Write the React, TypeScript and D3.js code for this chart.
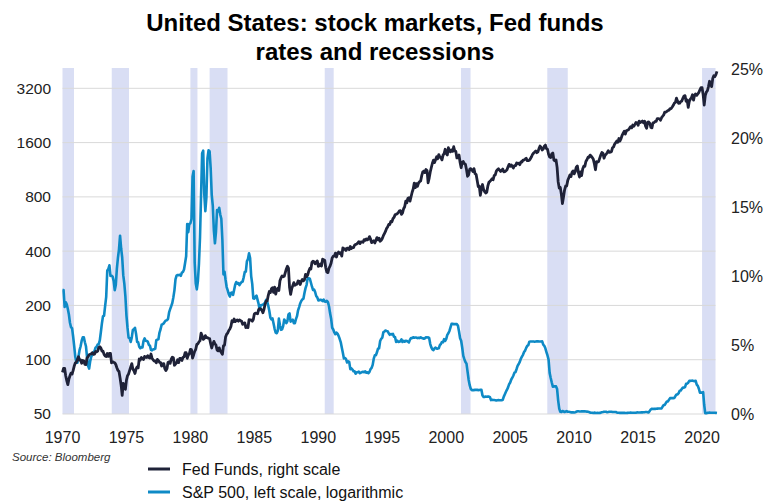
import React from "react";
import * as d3 from "d3";

const START_YEAR = 1970;

// S&P 500, monthly closes from Jan 1970
const spx: number[] = [
  85.0, 89.5, 89.6, 81.5, 76.6, 72.7, 78.0, 81.5, 84.3, 83.3, 87.2, 92.2,
  95.9, 96.8, 100.3, 103.9, 99.6, 99.7, 95.6, 99.0, 98.3, 94.2, 94.0, 102.1,
  103.9, 106.6, 107.2, 107.7, 109.5, 107.1, 107.4, 111.1, 110.6, 111.6, 116.7, 118.1,
  116.0, 111.7, 111.5, 107.0, 105.0, 104.3, 108.2, 104.3, 108.4, 108.3, 96.0, 97.6,
  96.6, 96.2, 94.0, 90.3, 87.3, 86.0, 79.3, 72.2, 63.5, 73.9, 70.0, 68.6,
  77.0, 81.6, 83.4, 87.3, 91.2, 95.2, 88.8, 86.9, 83.9, 89.0, 91.2, 90.2,
  100.9, 99.7, 102.8, 101.6, 100.2, 104.3, 103.4, 102.9, 105.2, 102.9, 102.1, 107.5,
  102.0, 99.8, 98.4, 98.4, 96.1, 100.5, 98.9, 96.8, 96.5, 92.3, 94.8, 95.1,
  89.3, 87.0, 89.2, 96.8, 97.2, 95.5, 100.7, 103.3, 102.5, 93.2, 94.7, 96.1,
  99.9, 96.3, 101.6, 101.8, 99.1, 102.9, 103.8, 109.3, 109.3, 101.8, 106.2, 107.9,
  114.2, 113.7, 102.1, 106.3, 111.2, 114.2, 121.7, 122.4, 125.5, 127.5, 140.5, 135.8,
  129.6, 131.3, 136.0, 132.8, 132.6, 131.2, 130.9, 122.8, 116.2, 121.9, 126.4, 122.6,
  120.4, 113.1, 112.0, 116.4, 111.9, 109.6, 107.1, 119.5, 120.4, 133.7, 138.5, 140.6,
  145.3, 148.1, 153.0, 164.4, 162.4, 168.1, 162.6, 164.4, 166.1, 163.6, 166.4, 164.9,
  163.4, 157.1, 159.2, 160.1, 150.6, 153.2, 150.7, 166.7, 166.1, 166.1, 163.6, 167.2,
  179.6, 181.2, 180.7, 179.8, 189.6, 191.9, 190.9, 188.6, 182.1, 189.8, 202.2, 211.3,
  211.8, 226.9, 238.9, 235.5, 247.4, 250.8, 236.1, 252.9, 231.3, 244.0, 249.2, 242.2,
  274.1, 284.2, 291.7, 288.4, 290.1, 304.0, 318.7, 329.8, 321.8, 251.8, 230.3, 247.1,
  257.1, 267.8, 258.9, 261.3, 262.2, 273.5, 272.0, 261.5, 271.9, 279.0, 273.7, 277.7,
  297.5, 288.9, 294.9, 309.6, 320.5, 318.0, 346.1, 351.5, 349.2, 340.4, 346.0, 353.4,
  329.1, 331.9, 339.9, 330.8, 361.2, 358.0, 356.2, 322.6, 306.1, 304.0, 322.2, 330.2,
  343.9, 367.1, 375.2, 375.4, 389.8, 371.2, 387.8, 395.4, 387.9, 392.5, 375.2, 417.1,
  408.8, 412.7, 403.7, 415.0, 415.4, 408.1, 424.2, 414.0, 417.8, 418.7, 431.4, 435.7,
  438.8, 443.4, 451.7, 440.2, 450.2, 450.5, 448.1, 463.6, 458.9, 467.8, 461.8, 466.5,
  481.6, 467.1, 445.8, 450.9, 456.5, 444.3, 458.3, 475.5, 462.7, 472.4, 453.7, 459.3,
  470.4, 487.4, 500.7, 514.7, 533.4, 544.8, 562.1, 561.9, 584.4, 581.5, 605.4, 615.9,
  636.0, 640.4, 645.5, 654.2, 669.1, 670.6, 640.0, 652.0, 687.3, 705.3, 757.0, 740.7,
  786.2, 790.8, 757.1, 801.3, 848.3, 885.1, 954.3, 899.5, 947.3, 914.6, 955.4, 970.4,
  980.3, 1049.3, 1101.8, 1111.8, 1090.8, 1133.8, 1120.7, 957.3, 1017.0, 1098.7, 1163.6, 1229.2,
  1279.6, 1238.3, 1286.4, 1335.2, 1301.8, 1372.7, 1328.7, 1320.4, 1282.7, 1362.9, 1388.9, 1469.3,
  1394.5, 1366.4, 1498.6, 1452.4, 1420.6, 1454.6, 1430.8, 1517.7, 1436.5, 1429.4, 1315.0, 1320.3,
  1366.0, 1239.9, 1160.3, 1249.5, 1255.8, 1224.4, 1211.2, 1133.6, 1040.9, 1059.8, 1139.5, 1148.1,
  1130.2, 1106.7, 1147.4, 1076.9, 1067.1, 989.8, 911.6, 916.1, 815.3, 885.8, 936.3, 879.8,
  855.7, 841.2, 848.2, 916.9, 963.6, 974.5, 990.3, 1008.0, 996.0, 1050.7, 1058.2, 1111.9,
  1131.1, 1144.9, 1126.2, 1107.3, 1120.7, 1140.8, 1101.7, 1104.2, 1114.6, 1130.2, 1173.8, 1211.9,
  1181.3, 1203.6, 1180.6, 1156.9, 1191.5, 1191.3, 1234.2, 1220.3, 1228.8, 1207.0, 1249.5, 1248.3,
  1280.1, 1280.7, 1294.9, 1310.6, 1270.1, 1270.2, 1276.7, 1303.8, 1335.9, 1377.9, 1400.6, 1418.3,
  1438.2, 1406.8, 1420.9, 1482.4, 1530.6, 1503.4, 1455.3, 1474.0, 1526.8, 1549.4, 1481.1, 1468.4,
  1378.6, 1330.6, 1322.7, 1385.6, 1400.4, 1280.0, 1267.4, 1282.8, 1166.4, 968.8, 896.2, 903.3,
  825.9, 735.1, 797.9, 872.8, 919.1, 919.3, 987.5, 1020.6, 1057.1, 1036.2, 1095.6, 1115.1,
  1073.9, 1104.5, 1169.4, 1186.7, 1089.4, 1030.7, 1101.6, 1049.3, 1141.2, 1183.3, 1180.6, 1257.6,
  1286.1, 1327.2, 1325.8, 1363.6, 1345.2, 1320.6, 1292.3, 1218.9, 1131.4, 1253.3, 1247.0, 1257.6,
  1312.4, 1365.7, 1408.5, 1397.9, 1310.3, 1362.2, 1379.3, 1406.6, 1440.7, 1412.2, 1416.2, 1426.2,
  1498.1, 1514.7, 1569.2, 1597.6, 1630.7, 1606.3, 1685.7, 1633.0, 1681.6, 1756.5, 1805.8, 1848.4,
  1782.6, 1859.5, 1872.3, 1884.0, 1923.6, 1960.2, 1930.7, 2003.4, 1972.3, 2018.1, 2067.6, 2058.9,
  1995.0, 2104.5, 2067.9, 2085.5, 2107.4, 2063.1, 2103.8, 1972.2, 1920.0, 2079.4, 2080.4, 2043.9,
  1940.2, 1932.2, 2059.7, 2065.3, 2097.0, 2098.9, 2173.6, 2171.0, 2168.3, 2126.2, 2198.8, 2238.8,
  2278.9, 2363.6, 2362.7, 2384.2, 2411.8, 2423.4, 2470.3, 2471.7, 2519.4, 2575.3, 2647.6, 2673.6,
  2823.8, 2713.8, 2640.9, 2648.1, 2705.3, 2718.4, 2816.3, 2901.5, 2914.0, 2711.7, 2760.2, 2506.9,
  2704.1, 2784.5, 2834.4, 2945.8, 2752.1, 2941.8, 2980.4, 2926.5, 2976.7, 3037.6, 3141.0, 3230.8,
  3225.5, 2954.2, 2584.6, 2912.4, 3044.3, 3100.3, 3271.1, 3500.3, 3363.0, 3270.0, 3621.6, 3756.1,
  3714.2, 3811.2, 3972.9,
];

// Effective Fed funds rate (%), monthly from Jan 1970
const fedFunds: number[] = [
  8.98, 8.98, 7.76, 8.1, 7.95, 7.61, 7.21, 6.61, 6.29, 6.2, 5.6, 4.9,
  4.14, 3.72, 3.71, 4.16, 4.63, 4.91, 5.31, 5.56, 5.55, 5.2, 4.91, 4.14,
  3.5, 3.29, 3.83, 4.17, 4.27, 4.46, 4.55, 4.8, 4.87, 5.04, 5.06, 5.33,
  5.94, 6.58, 7.09, 7.12, 7.84, 8.49, 10.4, 10.5, 10.78, 10.01, 10.03, 9.95,
  9.65, 8.97, 9.35, 10.51, 11.31, 11.93, 12.92, 12.01, 11.34, 10.06, 9.45, 8.53,
  7.13, 6.24, 5.54, 5.49, 5.22, 5.55, 6.1, 6.14, 6.24, 5.82, 5.22, 5.2,
  4.87, 4.77, 4.84, 4.82, 5.29, 5.48, 5.31, 5.29, 5.25, 5.02, 4.95, 4.65,
  4.61, 4.68, 4.69, 4.73, 5.35, 5.39, 5.42, 5.9, 6.14, 6.47, 6.51, 6.56,
  6.7, 6.78, 6.79, 6.89, 7.36, 7.6, 7.81, 8.04, 8.45, 8.96, 9.76, 10.03,
  10.07, 10.06, 10.09, 10.01, 10.24, 10.29, 10.47, 10.94, 11.43, 13.77, 13.18, 13.78,
  13.82, 14.13, 17.19, 17.61, 10.98, 9.47, 9.03, 9.61, 10.87, 12.81, 15.85, 18.9,
  19.08, 15.93, 14.7, 15.72, 18.52, 19.1, 19.04, 17.82, 15.87, 15.08, 13.31, 12.37,
  13.22, 14.78, 14.68, 14.94, 14.45, 14.15, 12.59, 10.12, 10.31, 9.71, 9.2, 8.95,
  8.68, 8.51, 8.77, 8.8, 8.63, 8.98, 9.37, 9.56, 9.45, 9.48, 9.34, 9.47,
  9.56, 9.59, 9.91, 10.29, 10.32, 11.06, 11.23, 11.64, 11.3, 9.99, 9.43, 8.38,
  8.35, 8.5, 8.58, 8.27, 7.97, 7.53, 7.88, 7.9, 7.92, 7.99, 8.05, 8.27,
  8.14, 7.86, 7.48, 6.99, 6.85, 6.92, 6.56, 6.17, 5.89, 5.85, 6.04, 6.91,
  6.43, 6.1, 6.13, 6.37, 6.85, 6.73, 6.58, 6.73, 7.22, 7.29, 6.69, 6.77,
  6.83, 6.58, 6.58, 6.87, 7.09, 7.51, 7.75, 8.01, 8.19, 8.3, 8.35, 8.76,
  9.12, 9.36, 9.85, 9.84, 9.81, 9.53, 9.24, 8.99, 9.02, 8.84, 8.55, 8.45,
  8.23, 8.24, 8.28, 8.26, 8.18, 8.29, 8.15, 8.13, 8.2, 8.11, 7.81, 7.31,
  6.91, 6.25, 6.12, 5.91, 5.78, 5.9, 5.82, 5.66, 5.45, 5.21, 4.81, 4.43,
  4.03, 4.06, 3.98, 3.73, 3.82, 3.76, 3.25, 3.3, 3.22, 3.1, 3.09, 2.92,
  3.02, 3.03, 3.07, 2.96, 3.0, 3.04, 3.06, 3.03, 3.09, 2.99, 3.02, 2.96,
  3.05, 3.25, 3.34, 3.56, 4.01, 4.25, 4.26, 4.47, 4.73, 4.76, 5.29, 5.45,
  5.53, 5.92, 5.98, 6.05, 6.01, 6.0, 5.85, 5.74, 5.8, 5.76, 5.8, 5.6,
  5.56, 5.22, 5.31, 5.22, 5.24, 5.27, 5.4, 5.22, 5.3, 5.24, 5.31, 5.29,
  5.25, 5.19, 5.39, 5.51, 5.5, 5.56, 5.52, 5.54, 5.54, 5.5, 5.52, 5.5,
  5.56, 5.51, 5.49, 5.45, 5.49, 5.56, 5.54, 5.55, 5.51, 5.07, 4.83, 4.68,
  4.63, 4.76, 4.81, 4.74, 4.74, 4.76, 4.99, 5.07, 5.22, 5.2, 5.42, 5.3,
  5.45, 5.73, 5.85, 6.02, 6.27, 6.53, 6.54, 6.5, 6.52, 6.51, 6.51, 6.4,
  5.98, 5.49, 5.31, 4.8, 4.21, 3.97, 3.77, 3.65, 3.07, 2.49, 2.09, 1.82,
  1.73, 1.74, 1.73, 1.75, 1.75, 1.75, 1.73, 1.74, 1.75, 1.75, 1.34, 1.24,
  1.24, 1.26, 1.25, 1.26, 1.26, 1.22, 1.01, 1.03, 1.01, 1.01, 1.0, 0.98,
  1.0, 1.01, 1.0, 1.0, 1.0, 1.03, 1.26, 1.43, 1.61, 1.76, 1.93, 2.16,
  2.28, 2.5, 2.63, 2.79, 3.0, 3.04, 3.26, 3.5, 3.62, 3.78, 4.0, 4.16,
  4.29, 4.49, 4.59, 4.79, 4.94, 4.99, 5.24, 5.25, 5.25, 5.25, 5.25, 5.24,
  5.25, 5.26, 5.26, 5.25, 5.25, 5.25, 5.26, 5.02, 4.94, 4.76, 4.49, 4.24,
  3.94, 2.98, 2.61, 2.28, 1.98, 2.0, 2.01, 2.0, 1.81, 0.97, 0.39, 0.16,
  0.15, 0.22, 0.18, 0.15, 0.18, 0.21, 0.16, 0.16, 0.15, 0.12, 0.12, 0.12,
  0.11, 0.13, 0.16, 0.2, 0.2, 0.18, 0.18, 0.19, 0.19, 0.19, 0.19, 0.18,
  0.17, 0.16, 0.14, 0.1, 0.09, 0.09, 0.07, 0.1, 0.08, 0.07, 0.08, 0.07,
  0.08, 0.1, 0.13, 0.14, 0.16, 0.16, 0.16, 0.13, 0.14, 0.16, 0.16, 0.16,
  0.14, 0.15, 0.14, 0.15, 0.11, 0.09, 0.09, 0.08, 0.08, 0.09, 0.08, 0.09,
  0.07, 0.07, 0.08, 0.09, 0.09, 0.1, 0.09, 0.09, 0.09, 0.09, 0.09, 0.12,
  0.11, 0.11, 0.11, 0.12, 0.12, 0.13, 0.13, 0.14, 0.14, 0.12, 0.12, 0.24,
  0.34, 0.38, 0.36, 0.37, 0.37, 0.38, 0.39, 0.4, 0.4, 0.4, 0.41, 0.54,
  0.65, 0.66, 0.79, 0.9, 0.91, 1.04, 1.15, 1.16, 1.15, 1.15, 1.16, 1.3,
  1.41, 1.42, 1.51, 1.69, 1.7, 1.82, 1.91, 1.91, 1.95, 2.19, 2.2, 2.27,
  2.4, 2.4, 2.41, 2.42, 2.39, 2.38, 2.4, 2.13, 2.04, 1.83, 1.55, 1.55,
  1.55, 1.58, 0.65, 0.05, 0.05, 0.08, 0.09, 0.1, 0.09, 0.09, 0.09, 0.09,
  0.09, 0.08, 0.07,
];

// Recession periods (decimal years)
const recessionStarts = [1970.0, 1973.85, 1980.0, 1981.5, 1990.5, 2001.15, 2007.9, 2020.0];
const recessionEnds = [1970.9, 1975.2, 1980.55, 1982.9, 1991.2, 2001.9, 2009.5, 2021.05];

const leftTicks = [50, 100, 200, 400, 800, 1600, 3200];
const rightTicks = [0, 5, 10, 15, 20, 25];
const yearTicks = [1970, 1975, 1980, 1985, 1990, 1995, 2000, 2005, 2010, 2015, 2020];

const titleLines = ["United States: stock markets, Fed funds", "rates and recessions"];
const legendLabels = ["Fed Funds, right scale", "S&P 500, left scale, logarithmic"];
const sourceText = "Source: Bloomberg";

const W = 766;
const H = 502;
const DARK = "#1f2238";
const BLUE = "#0e8ac6";
const BAND = "#d9def4";
const GRID = "#d9d9d9";
const FONT = "'Liberation Sans', Arial, sans-serif";

export default function App() {
  const x = d3.scaleLinear().domain([1970, 2021.05]).range([62.5, 715.5]);
  const yL = d3.scaleLog().base(2).domain([50, 4147]).range([414, 68]);
  const yR = d3.scaleLinear().domain([0, 25.07]).range([414, 68]);

  const spxPts: [number, number][] = spx.map((v, i) => [START_YEAR + i / 12, v]);
  const ffPts: [number, number][] = fedFunds.map((v, i) => [START_YEAR + i / 12, v]);

  const spxLine = d3
    .line<[number, number]>()
    .x((d) => x(d[0]))
    .y((d) => yL(d[1]))(spxPts) as string;
  const ffLine = d3
    .line<[number, number]>()
    .x((d) => x(d[0]))
    .y((d) => yR(d[1]))(ffPts) as string;

  const [x0, x1] = x.range();

  return (
    <svg
      width={W}
      height={H}
      viewBox={`0 0 ${W} ${H}`}
      style={{ position: "absolute", left: 0, top: 0, background: "#fff" }}
      fontFamily={FONT}
    >
      <rect x={0} y={0} width={W} height={H} fill="#fff" />
      {/* title */}
      {titleLines.map((t, i) => (
        <text
          key={t}
          x={375}
          y={31 + i * 29}
          textAnchor="middle"
          fontSize={24}
          fontWeight="bold"
          fill="#000"
        >
          {t}
        </text>
      ))}

      {/* recession bands */}
      {recessionStarts.map((s, i) => (
        <rect
          key={"r" + i}
          x={x(s)}
          y={68}
          width={x(recessionEnds[i]) - x(s)}
          height={414 - 68}
          fill={BAND}
        />
      ))}

      {/* gridlines */}
      {leftTicks.map((t) => (
        <line key={"g" + t} x1={x0} x2={x1} y1={yL(t)} y2={yL(t)} stroke={GRID} strokeWidth={1} />
      ))}

      {/* series */}
      <path d={ffLine} fill="none" stroke={BLUE} strokeWidth={2.6} strokeLinejoin="round" />
      <path d={spxLine} fill="none" stroke={DARK} strokeWidth={2.8} strokeLinejoin="round" />

      {/* left axis labels */}
      {leftTicks.map((t) => (
        <text key={"l" + t} x={51} y={yL(t)} dy="0.35em" textAnchor="end" fontSize={15.5} fill="#222">
          {t}
        </text>
      ))}

      {/* right axis labels */}
      {rightTicks.map((t) => (
        <text key={"rt" + t} x={731} y={yR(t)} dy="0.35em" textAnchor="start" fontSize={16} fill="#222">
          {t + "%"}
        </text>
      ))}

      {/* x axis labels */}
      {yearTicks.map((t) => (
        <text key={"y" + t} x={x(t)} y={443} textAnchor="middle" fontSize={16} fill="#222">
          {t}
        </text>
      ))}

      {/* source */}
      <text x={12} y={461} fontSize={11.5} fontStyle="italic" fill="#333">
        {sourceText}
      </text>

      {/* legend */}
      {legendLabels.map((l, i) => (
        <g key={l} transform={`translate(0, ${469 + i * 23})`}>
          <line x1={148} x2={170} y1={0} y2={0} stroke={i === 0 ? DARK : BLUE} strokeWidth={3} />
          <text x={182} y={0} dy="0.35em" fontSize={16} fill="#111">
            {l}
          </text>
        </g>
      ))}
    </svg>
  );
}
